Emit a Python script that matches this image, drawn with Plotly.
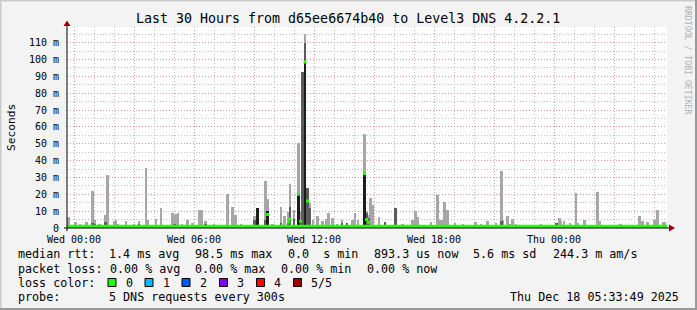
import pandas as pd
import plotly.graph_objects as go

# ---------------- data ----------------
T0 = pd.Timestamp("2025-12-17 00:00:00")  # Wed 00:00
range_start_h = -0.35
range_end_h = 29.65

# smoke spikes: hour offset from Wed 00:00, max rtt (light smoke), dense rtt (dark smoke), in ms
spike_hours = [-0.27, 0.07, 0.30, 0.63, 0.93, 1.05, 1.27, 1.57, 1.68, 2.02, 2.10, 2.20, 2.60, 3.00,
               3.25, 3.60, 3.70, 4.10, 4.35, 4.50, 4.93, 5.02, 5.10, 5.20, 5.40, 5.68, 5.93, 6.28,
               6.37, 6.57, 7.00, 7.68, 7.93, 8.07, 8.35, 9.03, 9.18, 9.58, 9.68, 9.93, 10.35, 10.52,
               10.73, 10.80, 11.00, 11.23, 11.33, 11.43, 11.55, 11.68, 11.80, 11.95, 12.18, 12.43,
               12.60, 12.73, 12.93, 13.15, 13.40, 13.65, 13.93, 14.05, 14.20, 14.52, 14.63, 14.72,
               14.82, 14.93, 15.25, 15.55, 16.08, 16.43, 16.93, 17.08, 17.18, 17.85, 18.18, 18.30,
               18.43, 18.53, 18.68, 19.05, 19.45, 20.07, 20.35, 20.68, 21.10, 21.38, 21.45, 21.68,
               21.80, 21.93, 22.10, 23.35, 24.13, 24.27, 24.35, 24.50, 24.80, 25.10, 25.20, 25.52,
               26.18, 26.27, 27.32, 28.27, 28.43, 28.68, 29.02, 29.18, 29.45, 29.55]
spike_max_ms = [6.3, 3.5, 2.5, 3.5, 21.9, 4.7, 2.5, 7.7, 31.4, 4.0, 5.0, 2.5, 4.0, 2.5,
                4.0, 35.9, 5.0, 5.5, 11.6, 2.0, 9.0, 8.0, 8.5, 9.0, 2.5, 5.0, 3.0, 10.6,
                10.6, 4.0, 2.5, 20.0, 12.6, 8.0, 2.5, 7.0, 12.0, 27.8, 17.0, 2.5, 12.6, 7.0,
                9.6, 26.0, 10.6, 50.5, 10.0, 92.5, 115.0, 23.6, 14.8, 5.0, 7.0, 4.0,
                5.5, 8.8, 6.0, 2.5, 4.5, 3.0, 4.7, 8.7, 4.7, 56.0, 10.0, 8.0,
                17.6, 13.6, 6.7, 3.5, 11.6, 2.5, 4.5, 10.0, 6.7, 3.5, 19.5, 5.0,
                5.0, 15.6, 10.6, 3.0, 2.5, 3.5, 2.5, 4.0, 3.0, 33.7, 4.5, 7.0,
                2.5, 5.3, 2.5, 2.5, 3.0, 5.9, 4.0, 4.0, 3.0, 21.0, 3.0, 5.0,
                21.5, 4.0, 2.5, 7.0, 4.2, 3.6, 4.7, 10.6, 3.6, 3.6]
spike_dark_ms = [0, 0, 0, 0, 3.0, 2.5, 0, 3.5, 0, 0, 0, 0, 0, 0,
                 2.5, 0, 0, 0, 0, 0, 0, 2.5, 0, 0, 0, 0, 0, 0,
                 0, 2.5, 0, 0, 0, 0, 0, 5.0, 0, 5.0, 0, 0, 3.0, 0,
                 4.0, 12.6, 5.5, 0, 5.0, 92.5, 110.0, 23.6, 12.0, 0, 0, 0,
                 0, 0, 0, 0, 3.0, 3.0, 0, 0, 0, 0, 8.8, 6.0,
                 0, 0, 0, 3.5, 11.6, 0, 0, 0, 0, 0, 0, 0,
                 0, 0, 0, 0, 0, 0, 0, 0, 0, 4.0, 0, 0,
                 0, 0, 0, 0, 3.0, 0, 0, 0, 0, 0, 0, 0,
                 0, 0, 0, 0, 0, 0, 0, 0, 0, 0]

# densest pings (black core)
core_hours = [9.18, 9.68, 11.23, 11.55, 14.52]
core_ms = [11.6, 10.0, 20.5, 98.5, 32.3]

# raised median rtt points
median_hours = [9.68, 10.73, 10.80, 11.23, 11.33, 11.55, 11.68, 14.52, 14.63, 14.72]
median_ms = [8.0, 3.5, 5.3, 20.0, 4.0, 98.5, 16.0, 32.3, 5.0, 3.4]

baseline_median_ms = 1.1
baseline_smoke_ms = 1.8

ytick_ms = [0, 10, 20, 30, 40, 50, 60, 70, 80, 90, 100, 110]
ytick_labels = ["0", "10 m", "20 m", "30 m", "40 m", "50 m", "60 m", "70 m", "80 m",
                "90 m", "100 m", "110 m"]
xtick_hours = [0, 3, 6, 9, 12, 15, 18, 21, 24, 27]
xtick_labels = ["Wed 00:00", "", "Wed 06:00", "", "Wed 12:00", "", "Wed 18:00", "",
                "Thu 00:00", ""]

title_text = "Last 30 Hours from d65ee6674b40 to Level3 DNS 4.2.2.1"
loss_labels = ["0", "1", "2", "3", "4", "5/5"]
loss_colors = ["#26ff00", "#00b8ff", "#0059ff", "#7e00ff", "#ff0000", "#a00000"]

# ---------------- helpers ----------------
def tt(hours):
    return [T0 + pd.Timedelta(hours=h) for h in hours]

PL, PR, PT, PB = 67, 667, 27, 228
def px_x(x):
    return (x - PL) / (PR - PL)
def px_y(y):
    return (PB - y) / (PB - PT)

MONO = "DejaVu Sans Mono"
STEP_MS = 7.5 * 60 * 1000
MAJOR_GRID = "rgba(255,110,110,0.55)"
MINOR_GRID = "#BEBEBE"
GRID_DASH = "1px,2px"

fig = go.Figure()

# base smoke band and baseline median
fig.add_trace(go.Scatter(x=tt([range_start_h, range_end_h]), y=[baseline_smoke_ms] * 2,
                         mode="lines", line=dict(width=0), fill="tozeroy",
                         fillcolor="#B4B4B4", hoverinfo="skip", showlegend=False))
fig.add_trace(go.Bar(x=tt(spike_hours), y=spike_max_ms, width=STEP_MS,
                     marker=dict(color="#A6A6A6", line=dict(width=0)), showlegend=False))
fig.add_trace(go.Bar(x=tt(spike_hours), y=spike_dark_ms, width=STEP_MS,
                     marker=dict(color="#5C5C5C", line=dict(width=0)), showlegend=False))
fig.add_trace(go.Bar(x=tt(core_hours), y=core_ms, width=STEP_MS,
                     marker=dict(color="#1C1C1C", line=dict(width=0)), showlegend=False))
fig.add_trace(go.Scatter(x=tt([range_start_h, range_end_h]), y=[baseline_median_ms] * 2,
                         mode="lines", line=dict(color=loss_colors[0], width=3),
                         hoverinfo="skip", showlegend=False))
fig.add_trace(go.Scatter(x=tt(median_hours), y=median_ms, mode="markers",
                         marker=dict(symbol="square", size=3, color=loss_colors[0],
                                     line=dict(width=0)), showlegend=False))

shapes = []
annotations = []

# frame
shapes += [
    dict(type="line", xref="paper", yref="paper", x0=px_x(0), x1=px_x(697), y0=px_y(0.5), y1=px_y(0.5),
         line=dict(color="#CBCBCB", width=2)),
    dict(type="line", xref="paper", yref="paper", x0=px_x(0.5), x1=px_x(0.5), y0=px_y(0), y1=px_y(310),
         line=dict(color="#CBCBCB", width=2)),
    dict(type="line", xref="paper", yref="paper", x0=px_x(0), x1=px_x(697), y0=px_y(309), y1=px_y(309),
         line=dict(color="#999999", width=2)),
    dict(type="line", xref="paper", yref="paper", x0=px_x(696), x1=px_x(696), y0=px_y(0), y1=px_y(310),
         line=dict(color="#999999", width=2)),
]
# axis extensions and arrows
shapes += [
    dict(type="line", xref="paper", yref="paper", x0=px_x(PL), x1=px_x(PL), y0=px_y(PB + 3), y1=px_y(24),
         line=dict(color="black", width=1)),
    dict(type="line", xref="paper", yref="paper", x0=px_x(PL - 3), x1=px_x(670), y0=px_y(PB), y1=px_y(PB),
         line=dict(color="black", width=1)),
    dict(type="path", xref="paper", yref="paper",
         path=f"M {px_x(63.5)},{px_y(26)} L {px_x(70.5)},{px_y(26)} L {px_x(67)},{px_y(20.5)} Z",
         fillcolor="#9B0000", line=dict(width=0)),
    dict(type="path", xref="paper", yref="paper",
         path=f"M {px_x(669)},{px_y(224.5)} L {px_x(669)},{px_y(231.5)} L {px_x(675)},{px_y(228)} Z",
         fillcolor="#9B0000", line=dict(width=0)),
]

def text(x, y, s, size=11.7, anchor="left", color="black", angle=0):
    annotations.append(dict(x=px_x(x), y=px_y(y), xref="paper", yref="paper", text=s,
                            showarrow=False, xanchor=anchor, yanchor="middle", textangle=angle,
                            font=dict(family=MONO, size=size, color=color)))

text(348, 19, title_text, size=13.3, anchor="center")
text(11, 128, "Seconds", size=11.2, anchor="center", angle=-90)
text(688, 60, "RRDTOOL / TOBI OETIKER", size=8.2, anchor="center", color="#B0B0B0", angle=90)

# legend rows
text(16, 254, "median rtt:")
for xx, s in [(107, "1.4 ms avg"), (193, "98.5 ms max"), (286, "0.0  s min"),
              (372, "893.3 us now"), (471, "5.6 ms sd"), (551, "244.3 m am/s")]:
    text(xx, 254, s)
text(16, 268.5, "packet loss:")
for xx, s in [(107.5, "0.00 % avg"), (193, "0.00 % max"), (279, "0.00 % min"), (364.5, "0.00 % now")]:
    text(xx, 268.5, s)
text(16, 282.5, "loss color:")
box_x = [108, 145, 182, 219.5, 256.5, 293.5]
for bx, lab, col in zip(box_x, loss_labels, loss_colors):
    shapes.append(dict(type="rect", xref="paper", yref="paper", x0=px_x(bx), x1=px_x(bx + 8),
                       y0=px_y(278.5), y1=px_y(286.5), fillcolor=col, line=dict(color="black", width=1)))
    text(bx + 15.5, 282.5, lab)
text(16, 297, "probe:")
text(107, 297, "5 DNS requests every 300s")
text(681, 297, "Thu Dec 18 05:33:49 2025", anchor="right")

fig.update_layout(
    width=697, height=310,
    margin=dict(l=PL, r=697 - PR, t=PT, b=310 - PB, pad=0),
    paper_bgcolor="#F3F3F3", plot_bgcolor="white",
    barmode="overlay", bargap=0, showlegend=False,
    shapes=shapes, annotations=annotations,
    font=dict(family=MONO, color="black"),
    xaxis=dict(
        type="date", range=tt([range_start_h, range_end_h]),
        tickmode="array", tickvals=tt(xtick_hours), ticktext=xtick_labels,
        tickfont=dict(family=MONO, size=10, color="black"),
        ticklabelstandoff=4,
        showgrid=True, gridcolor=MAJOR_GRID, griddash=GRID_DASH, gridwidth=1,
        minor=dict(dtick=3600000, tick0=T0, showgrid=True, gridcolor=MINOR_GRID,
                   griddash=GRID_DASH, gridwidth=1),
        showline=False, zeroline=False, ticks="", fixedrange=True,
    ),
    yaxis=dict(
        range=[0, 119.3], tickmode="array", tickvals=ytick_ms, ticktext=ytick_labels,
        tickfont=dict(family=MONO, size=10, color="black"),
        ticklabelstandoff=7,
        showgrid=True, gridcolor=MAJOR_GRID, griddash=GRID_DASH, gridwidth=1,
        minor=dict(dtick=5, tick0=0, showgrid=True, gridcolor=MINOR_GRID,
                   griddash=GRID_DASH, gridwidth=1),
        showline=False, zeroline=False, ticks="", fixedrange=True,
    ),
)

fig.write_html("out.html", config={"displayModeBar": False})
